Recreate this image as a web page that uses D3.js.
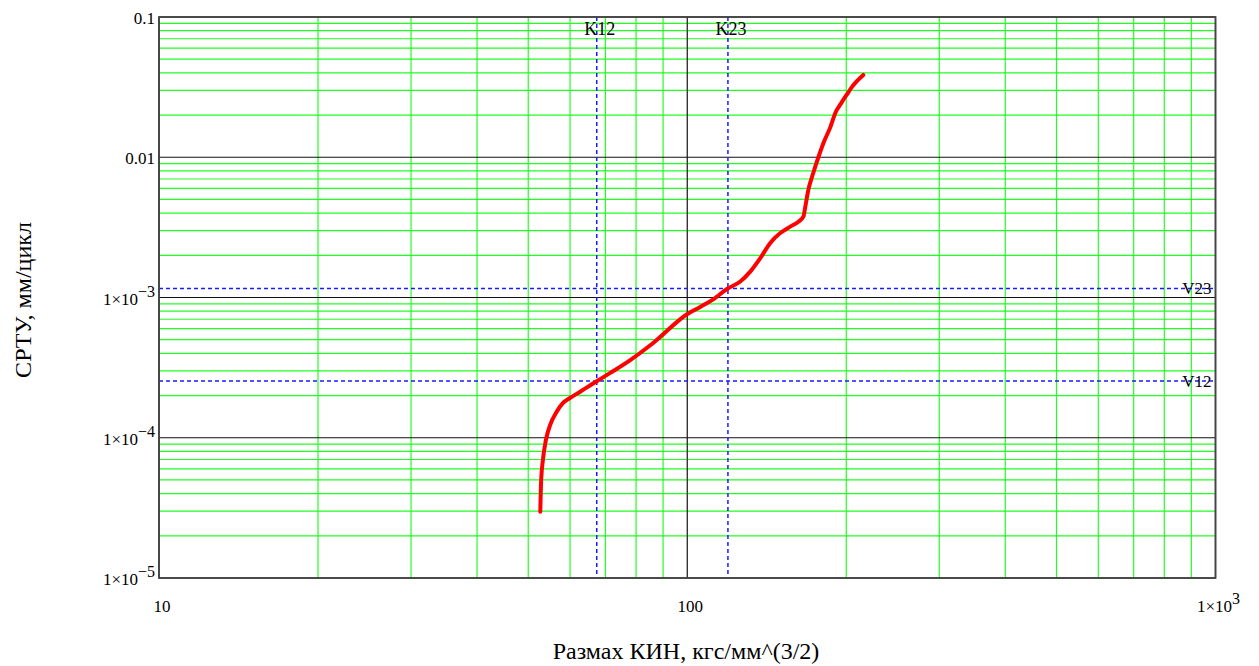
<!DOCTYPE html>
<html><head><meta charset="utf-8">
<script src="https://cdn.jsdelivr.net/npm/d3@7"></script>
<style>body{margin:0;background:#fff}svg{display:block}text{font-family:"Liberation Serif","Times New Roman",serif;fill:#000}</style>
</head><body>
<svg id="c" width="1259" height="666"></svg>
<script>
// Data
const curveX = [52.7,52.9,53.3,54.0,55.0,56.6,58.2,60.0,62.7,67.5,71.5,78.0,86.2,99.9,106,112,118.9,126,131.6,137.5,143.6,150,156.7,162.3,165.9,167.3,169.5,173.2,177.1,181,186.6,190.7,195.5,200.5,205.4,215.4];
const curveY = [2.97e-5,5.0e-5,6.94e-5,9.63e-5,1.23e-4,1.53e-4,1.77e-4,1.92e-4,2.13e-4,2.54e-4,2.90e-4,3.58e-4,4.74e-4,7.6e-4,8.6e-4,9.7e-4,1.15e-3,1.30e-3,1.53e-3,1.91e-3,2.45e-3,2.88e-3,3.20e-3,3.47e-3,3.77e-3,4.44e-3,5.84e-3,7.72e-3,1.0e-2,1.26e-2,1.64e-2,2.07e-2,2.42e-2,2.80e-2,3.20e-2,3.86e-2];
const xTicks = [10, 100, 1000];
const xTickLabels = [["10",""],["100",""],["1×10","3"]];
const yTicks = [0.1, 0.01, 0.001, 1e-4, 1e-5];
const yTickLabels = [["0.1",""],["0.01",""],["1×10","−3"],["1×10","−4"],["1×10","−5"]];
const markerNames = ["K12","K23"];
const markerX = [67.4, 119.4];
const levelNames = ["V23","V12"];
const levelY = [1.16e-3, 2.54e-4];
const xTitle = "Размах КИН, кгс/мм^(3/2)";
const yTitle = "СРТУ, мм/цикл";

const svg = d3.select("#c");
const m = {l:159, t:17, r:1259-1215.5, b:666-578};
const W = 1259, H = 666;
const x = d3.scaleLog().domain([10,1000]).range([m.l, W-m.r]);
const y = d3.scaleLog().domain([1e-5,0.1]).range([H-m.b, m.t]);

const minor = (lo, hi) => { const a=[]; for(let e=lo;e<hi;e++) for(let k=2;k<=9;k++) a.push(k*Math.pow(10,e)); return a; };
const g = svg.append("g");
// minor grid
g.selectAll(".vx").data(minor(1,3)).join("line")
 .attr("x1",d=>x(d)).attr("x2",d=>x(d)).attr("y1",m.t).attr("y2",H-m.b)
 .attr("stroke","#22ff22").attr("stroke-width",1.2);
g.selectAll(".hy").data(minor(-5,-1)).join("line")
 .attr("y1",d=>y(d)).attr("y2",d=>y(d)).attr("x1",m.l).attr("x2",W-m.r)
 .attr("stroke","#22ff22").attr("stroke-width",1.2);
// major grid
g.selectAll(".mx").data(xTicks).join("line")
 .attr("x1",d=>x(d)).attr("x2",d=>x(d)).attr("y1",m.t).attr("y2",H-m.b)
 .attr("stroke","#111").attr("stroke-width",1.2);
g.selectAll(".my").data(yTicks).join("line")
 .attr("y1",d=>y(d)).attr("y2",d=>y(d)).attr("x1",m.l).attr("x2",W-m.r)
 .attr("stroke","#111").attr("stroke-width",1.2);

// markers
g.selectAll(".kx").data(markerX).join("line")
 .attr("x1",d=>x(d)).attr("x2",d=>x(d)).attr("y1",m.t).attr("y2",H-m.b)
 .attr("stroke","#1a1aff").attr("stroke-width",1.5).attr("stroke-dasharray","4,3");
g.selectAll(".vy").data(levelY).join("line")
 .attr("y1",d=>y(d)).attr("y2",d=>y(d)).attr("x1",m.l).attr("x2",W-m.r)
 .attr("stroke","#1a1aff").attr("stroke-width",1.5).attr("stroke-dasharray","4,3");

// frame
svg.append("rect").attr("x",m.l).attr("y",m.t).attr("width",W-m.r-m.l).attr("height",H-m.b-m.t)
 .attr("fill","none").attr("stroke","#444").attr("stroke-width",1.8);

// curve
const pts = curveX.map((v,i)=>[v,curveY[i]]);
svg.append("path").datum(pts)
 .attr("d", d3.line().x(d=>x(d[0])).y(d=>y(d[1])).curve(d3.curveMonotoneX))
 .attr("fill","none").attr("stroke","#ff0000").attr("stroke-width",4).attr("stroke-linejoin","round").attr("stroke-linecap","round");

// marker labels
svg.selectAll(".kl").data(markerX).join("text")
 .attr("x",d=>x(d)+3).attr("y",m.t+18).attr("text-anchor","middle").attr("font-size",18)
 .text((d,i)=>markerNames[i]);
svg.selectAll(".vl").data(levelY).join("text")
 .attr("x",W-m.r-4).attr("y",d=>y(d)+6).attr("text-anchor","end").attr("font-size",17)
 .text((d,i)=>levelNames[i]);

// x tick labels
const xt = svg.selectAll(".xt").data(xTicks).join("text")
 .attr("x",d=>x(d)+3).attr("y",612).attr("text-anchor","middle").attr("font-size",17);
xt.append("tspan").text((d,i)=>xTickLabels[i][0]);
xt.append("tspan").attr("dy",-8).attr("font-size",16).text((d,i)=>xTickLabels[i][1]);

// y tick labels
const yt = svg.selectAll(".yt").data(yTicks).join("text")
 .attr("x",m.l-4).attr("y",d=>y(d)+7).attr("text-anchor","end").attr("font-size",17);
yt.append("tspan").text((d,i)=>yTickLabels[i][0]);
yt.append("tspan").attr("dy",-8).attr("font-size",16).text((d,i)=>yTickLabels[i][1]);

// titles
svg.append("text").attr("x",686).attr("y",659).attr("text-anchor","middle").attr("font-size",24).text(xTitle);
svg.append("text").attr("transform","translate(31,300) rotate(-90)").attr("text-anchor","middle").attr("font-size",24).text(yTitle);
</script>
</body></html>
